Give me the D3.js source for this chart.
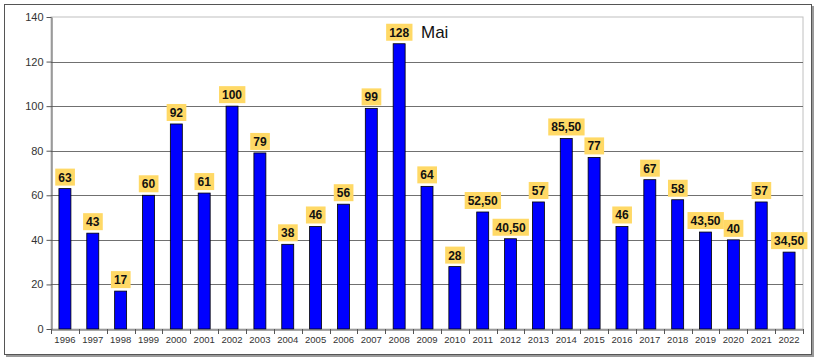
<!DOCTYPE html>
<html><head><meta charset="utf-8">
<script src="https://cdn.jsdelivr.net/npm/d3@7"></script>
<style>body{margin:0;background:#fff;}svg{display:block;font-family:Arial,"Liberation Sans",sans-serif;}</style>
</head><body>
<svg id="c" width="820" height="361"></svg>
<script>
const years = ["1996","1997","1998","1999","2000","2001","2002","2003","2004","2005","2006","2007","2008","2009","2010","2011","2012","2013","2014","2015","2016","2017","2018","2019","2020","2021","2022"];
const values = [63,43,17,60,92,61,100,79,38,46,56,99,128,64,28,52.5,40.5,57,85.5,77,46,67,58,43.5,40,57,34.5];
const yTicks = [0,20,40,60,80,100,120,140];
const title = "Mai";

const svg = d3.select("#c");
const L = 51, R = 803, T = 17, B = 329;
// outer frame
svg.append("rect").attr("x",6).attr("y",6).attr("width",808).attr("height",351).attr("fill","#9a9a9a");
svg.append("rect").attr("x",4.5).attr("y",4.5).attr("width",807).attr("height",350).attr("fill","#fff").attr("stroke","#555").attr("stroke-width",1);

const x = d3.scaleBand().domain(years).range([L,R]).paddingInner(0.57).paddingOuter(0.285);
const xb = d3.scaleBand().domain(years).range([L,R]);
const y = d3.scaleLinear().domain([0,140]).range([B,T]);

// plot border (light)
svg.append("rect").attr("x",L).attr("y",T).attr("width",R-L).attr("height",B-T).attr("fill","none").attr("stroke","#c0c0c0");
// gridlines
svg.append("g").selectAll("line").data(yTicks.filter(d=>d>0&&d<140)).join("line")
  .attr("x1",L).attr("x2",R).attr("y1",d=>Math.round(y(d))+0.5).attr("y2",d=>Math.round(y(d))+0.5)
  .attr("stroke","#707070").attr("stroke-width",1);

// y axis
const ya = svg.append("g").attr("transform",`translate(${L+0.5},0)`)
  .call(d3.axisLeft(y).tickValues(yTicks).tickSize(5).tickSizeOuter(0).tickFormat(d3.format("d")));
ya.select(".domain").attr("stroke","#555");
ya.selectAll(".tick line").attr("stroke","#555");
ya.selectAll("text").attr("font-size","11px").attr("fill","#333").attr("font-family","Arial,'Liberation Sans',sans-serif");

// bars
svg.append("g").selectAll("rect").data(values).join("rect")
  .attr("x",(d,i)=>x(years[i])).attr("width",x.bandwidth())
  .attr("y",d=>y(d)).attr("height",d=>B-y(d))
  .attr("fill","#0000ff").attr("stroke","#000").attr("stroke-width",0.8);

// x axis
const xa = svg.append("g").attr("transform",`translate(0,${B+0.5})`)
  .call(d3.axisBottom(xb).tickSize(0).tickSizeOuter(0));
xa.select(".domain").attr("stroke","#555");
xa.selectAll("text").attr("font-size","9.5px").attr("fill","#333").attr("dy","1.1em").attr("font-family","Arial,'Liberation Sans',sans-serif");
svg.append("g").selectAll("line").data(years.concat(["end"])).join("line")
  .attr("x1",(d,i)=>Math.round(L+i*xb.step())+0.5).attr("x2",(d,i)=>Math.round(L+i*xb.step())+0.5)
  .attr("y1",B).attr("y2",B+5).attr("stroke","#555");

// labels
const fmt = v => Number.isInteger(v) ? String(v) : v.toFixed(2).replace(".",",");
const lg = svg.append("g");
values.forEach((v,i)=>{
  const cx = x(years[i]) + x.bandwidth()/2;
  const t = fmt(v);
  const g = lg.append("g");
  const txt = g.append("text").attr("x",cx).attr("y",y(v)-7).attr("text-anchor","middle")
    .attr("font-size","12px").attr("font-weight","bold").attr("fill","#111").text(t);
  const bb = txt.node().getBBox();
  g.insert("rect","text").attr("x",bb.x-3).attr("y",y(v)-20).attr("width",bb.width+6).attr("height",17)
    .attr("fill","#ffd966");
});

// title
svg.append("text").attr("x",421).attr("y",38).attr("font-size","17px").attr("fill","#111").text(title);
</script>
</body></html>
